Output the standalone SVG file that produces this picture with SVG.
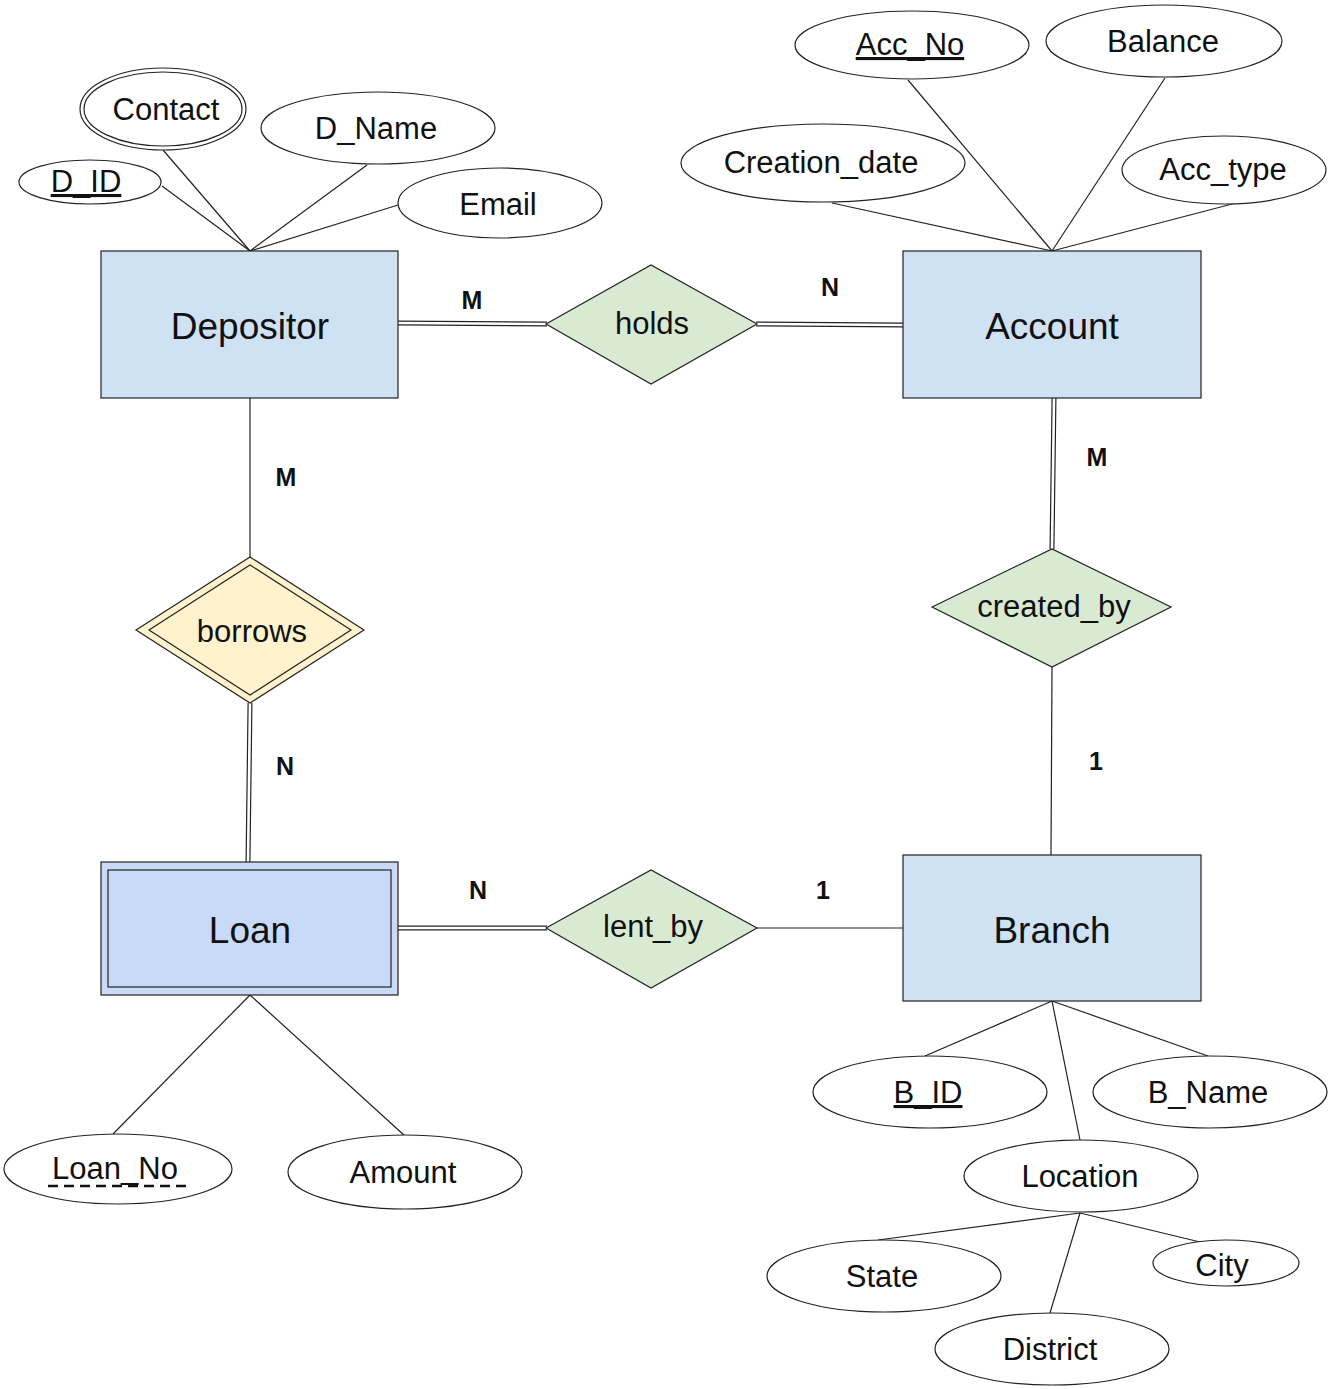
<svg xmlns="http://www.w3.org/2000/svg" width="1332" height="1389" viewBox="0 0 1332 1389">
<style>
text{font-family:"Liberation Sans",Arial,sans-serif;fill:#111;text-anchor:middle}
.ent{fill:#cfe2f3;stroke:#222;stroke-width:1.2}
.weak{fill:#c9daf8;stroke:#222;stroke-width:1.2}
.rel{fill:#d9ead3;stroke:#222;stroke-width:1.2}
.wrel{fill:#fff2cc;stroke:#222;stroke-width:1.2}
.att{fill:#fff;stroke:#222;stroke-width:1.2}
.et{font-size:37px}
.at{font-size:31px}
.card{font-size:25px;font-weight:bold}
.l{stroke:#222;stroke-width:1.2;fill:none}
.dbo{stroke:#222;stroke-width:5;fill:none}
.dbi{stroke:#fff;stroke-width:2.6;fill:none}
.ul{text-decoration:underline}
</style>
<rect width="1332" height="1389" fill="#fff"/>
<g id="connectors">
<!-- attribute lines -->
<line class="l" x1="162" y1="186" x2="250" y2="251"/>
<line class="l" x1="163" y1="150" x2="250" y2="251"/>
<line class="l" x1="367" y1="165" x2="250" y2="251"/>
<line class="l" x1="398" y1="205" x2="250" y2="251"/>
<line class="l" x1="832" y1="203" x2="1052" y2="251"/>
<line class="l" x1="908" y1="80" x2="1052" y2="251"/>
<line class="l" x1="1165" y1="78" x2="1052" y2="251"/>
<line class="l" x1="1236" y1="203" x2="1052" y2="251"/>
<line class="l" x1="250" y1="995" x2="113" y2="1134"/>
<line class="l" x1="250" y1="995" x2="405" y2="1136"/>
<line class="l" x1="1052" y1="1001" x2="925" y2="1056"/>
<line class="l" x1="1052" y1="1001" x2="1208" y2="1056"/>
<line class="l" x1="1052" y1="1001" x2="1080" y2="1140"/>
<line class="l" x1="1080" y1="1213" x2="878" y2="1240"/>
<line class="l" x1="1080" y1="1213" x2="1200" y2="1242"/>
<line class="l" x1="1080" y1="1213" x2="1050" y2="1313"/>
<!-- relationship lines -->
<line class="dbo" x1="398" y1="323" x2="547" y2="324"/>
<line class="dbi" x1="398" y1="323" x2="547" y2="324"/>
<line class="dbo" x1="756" y1="324" x2="903" y2="325"/>
<line class="dbi" x1="756" y1="324" x2="903" y2="325"/>
<line class="l" x1="250" y1="398" x2="250" y2="557"/>
<line class="dbo" x1="250" y1="703" x2="248" y2="862"/>
<line class="dbi" x1="250" y1="703" x2="248" y2="862"/>
<line class="dbo" x1="1054" y1="398" x2="1052" y2="549"/>
<line class="dbi" x1="1054" y1="398" x2="1052" y2="549"/>
<line class="l" x1="1052" y1="667" x2="1051" y2="855"/>
<line class="dbo" x1="398" y1="928" x2="547" y2="928"/>
<line class="dbi" x1="398" y1="928" x2="547" y2="928"/>
<line class="l" x1="757" y1="928" x2="903" y2="928"/>
</g>
<g id="cardinalities">
<text class="card" x="472" y="309">M</text>
<text class="card" x="830" y="296">N</text>
<text class="card" x="286" y="486">M</text>
<text class="card" x="285" y="775">N</text>
<text class="card" x="1097" y="466">M</text>
<text class="card" x="1096" y="770">1</text>
<text class="card" x="478" y="899">N</text>
<text class="card" x="823" y="899">1</text>
</g>
<g id="Depositor"><rect class="ent" x="101" y="251" width="297" height="147"/><text class="et" x="250" y="339">Depositor</text></g>
<g id="Account"><rect class="ent" x="903" y="251" width="298" height="147"/><text class="et" x="1052" y="339">Account</text></g>
<g id="Loan"><rect class="weak" x="101" y="862" width="297" height="133"/><rect class="weak" x="108" y="870" width="283" height="117"/><text class="et" x="250" y="943">Loan</text></g>
<g id="Branch"><rect class="ent" x="903" y="855" width="298" height="146"/><text class="et" x="1052" y="943">Branch</text></g>
<g id="holds"><polygon class="rel" points="546,324 651,265 757,324 651,384"/><text class="at" x="652" y="334">holds</text></g>
<g id="borrows"><polygon class="wrel" points="136,630 250,557 364,630 250,703"/><polygon class="wrel" points="149,630 250,565 351,630 250,695"/><text class="at" x="252" y="642">borrows</text></g>
<g id="created_by"><polygon class="rel" points="932,607 1052,549 1171,607 1052,667"/><text class="at" x="1054" y="617">created_by</text></g>
<g id="lent_by"><polygon class="rel" points="546,928 651,870 757,928 651,988"/><text class="at" x="653" y="937">lent_by</text></g>
<g id="Contact"><ellipse class="att" cx="163" cy="109" rx="83" ry="41"/><ellipse class="att" cx="163" cy="109" rx="79" ry="37"/><text class="at" x="166" y="120">Contact</text></g>
<g id="D_ID"><ellipse class="att" cx="90" cy="182" rx="71" ry="22"/><text class="at ul" x="86" y="192">D_ID</text></g>
<g id="D_Name"><ellipse class="att" cx="378" cy="128" rx="117" ry="36"/><text class="at" x="376" y="139">D_Name</text></g>
<g id="Email"><ellipse class="att" cx="500" cy="203" rx="102" ry="35"/><text class="at" x="498" y="215">Email</text></g>
<g id="Acc_No"><ellipse class="att" cx="912" cy="45" rx="117" ry="34"/><text class="at ul" x="910" y="55">Acc_No</text></g>
<g id="Balance"><ellipse class="att" cx="1164" cy="41" rx="118" ry="36"/><text class="at" x="1163" y="52">Balance</text></g>
<g id="Creation_date"><ellipse class="att" cx="823" cy="163" rx="142" ry="39"/><text class="at" x="821" y="173">Creation_date</text></g>
<g id="Acc_type"><ellipse class="att" cx="1224" cy="170" rx="102" ry="34"/><text class="at" x="1223" y="180">Acc_type</text></g>
<g id="Loan_No"><ellipse class="att" cx="118" cy="1169" rx="114" ry="35"/><text class="at" x="115" y="1179">Loan_No</text><line x1="48" y1="1186" x2="186" y2="1186" stroke="#111" stroke-width="2.5" stroke-dasharray="10,6"/></g>
<g id="Amount"><ellipse class="att" cx="405" cy="1172" rx="117" ry="37"/><text class="at" x="403" y="1183">Amount</text></g>
<g id="B_ID"><ellipse class="att" cx="930" cy="1092" rx="117" ry="36"/><text class="at ul" x="928" y="1103">B_ID</text></g>
<g id="B_Name"><ellipse class="att" cx="1210" cy="1092" rx="117" ry="36"/><text class="at" x="1208" y="1103">B_Name</text></g>
<g id="Location"><ellipse class="att" cx="1081" cy="1176" rx="117" ry="36"/><text class="at" x="1080" y="1187">Location</text></g>
<g id="State"><ellipse class="att" cx="884" cy="1276" rx="117" ry="36"/><text class="at" x="882" y="1287">State</text></g>
<g id="City"><ellipse class="att" cx="1226" cy="1263" rx="73" ry="23"/><text class="at" x="1222" y="1276">City</text></g>
<g id="District"><ellipse class="att" cx="1052" cy="1349" rx="117" ry="36"/><text class="at" x="1050" y="1360">District</text></g>
</svg>
